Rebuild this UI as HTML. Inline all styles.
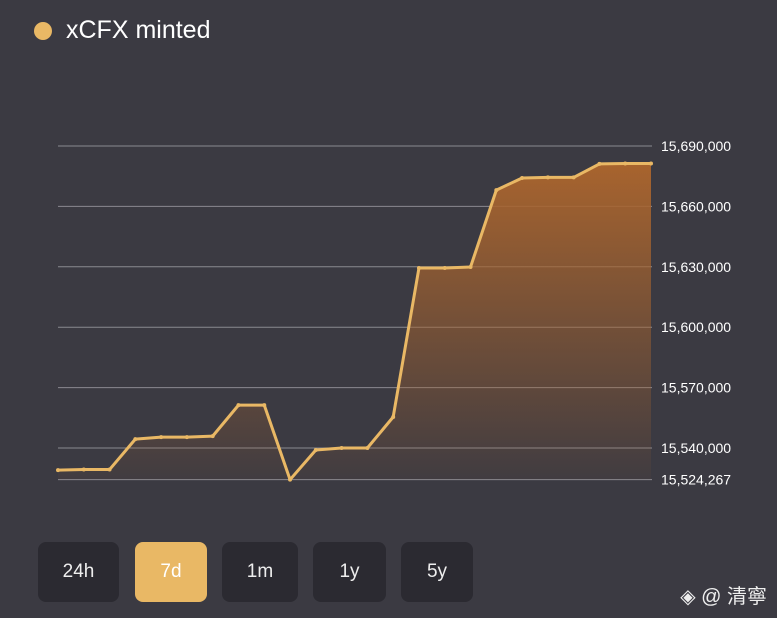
<!DOCTYPE html>
<html><head><meta charset="utf-8">
<style>
body{margin:0;width:777px;height:618px;background:#3b3a42;font-family:"Liberation Sans","Noto Sans CJK SC",sans-serif;overflow:hidden;position:relative}
.legend{position:absolute;left:34px;top:16px;display:flex;align-items:center;color:#fff;font-size:25px}
.dot{width:18px;height:18px;border-radius:50%;background:#e9b865;margin-right:14px}
.btn{position:absolute;top:542px;height:60px;border-radius:8px;background:#2b2a31;color:#eee;font-size:19px;display:flex;align-items:center;justify-content:center}
.btn.active{background:#e9b865;color:#fff}
.wm{position:absolute;right:10px;top:580px;color:#eee;font-size:20px}
</style></head><body>
<div class="legend"><div class="dot"></div><span>xCFX minted</span></div>
<svg id="chart" width="777" height="618" style="position:absolute;left:0;top:0">
<defs><linearGradient id="g" x1="0" y1="0" x2="0" y2="1"><stop offset="0" stop-color="#a8642e" stop-opacity="1"/><stop offset="1" stop-color="#a8642e" stop-opacity="0.05"/></linearGradient></defs>
</svg>
<div class="btn" style="left:38px;width:81px">24h</div>
<div class="btn active" style="left:135px;width:72px">7d</div>
<div class="btn" style="left:222px;width:76px">1m</div>
<div class="btn" style="left:313px;width:73px">1y</div>
<div class="btn" style="left:401px;width:72px">5y</div>
<div class="wm">◈ @ 清寧</div>
<script>
const values=[15529000,15529300,15529300,15544400,15545400,15545400,15545900,15561300,15561300,15524267,15539000,15540000,15540000,15555400,15629400,15629400,15629900,15668100,15674100,15674400,15674400,15681100,15681300,15681300];
const ticks=[15690000,15660000,15630000,15600000,15570000,15540000,15524267];
const tickLabels=["15,690,000","15,660,000","15,630,000","15,600,000","15,570,000","15,540,000","15,524,267"];
const NS="http://www.w3.org/2000/svg";
const svg=document.getElementById('chart');
const x0=58,x1=651;
const yv=v=>146+(15690000-v)*302/150000;
const xi=i=>x0+i*(x1-x0)/(values.length-1);
ticks.forEach((t,i)=>{
 const l=document.createElementNS(NS,'line');
 l.setAttribute('x1',x0);l.setAttribute('x2',652);l.setAttribute('y1',yv(t));l.setAttribute('y2',yv(t));
 l.setAttribute('stroke','#8a8990');l.setAttribute('stroke-width','1');
 
 
 svg.appendChild(l);
 const tx=document.createElementNS(NS,'text');
 tx.setAttribute('x',661);tx.setAttribute('y',yv(t)+5);tx.setAttribute('fill','#fff');tx.setAttribute('font-size','14');
 tx.setAttribute('font-family','Liberation Sans, sans-serif');
 tx.textContent=tickLabels[i];
 
 
 svg.appendChild(tx);
});
let d=values.map((v,i)=>(i?'L':'M')+xi(i)+','+yv(v)).join(' ');
const area=document.createElementNS(NS,'path');
area.setAttribute('d',d+' L'+x1+','+yv(15524267)+' L'+x0+','+yv(15524267)+' Z');
area.setAttribute('fill','url(#g)');


svg.appendChild(area);
const line=document.createElementNS(NS,'path');
line.setAttribute('d',d);line.setAttribute('fill','none');line.setAttribute('stroke','#e9b865');line.setAttribute('stroke-width','3');line.setAttribute('stroke-linejoin','round');


svg.appendChild(line);
values.forEach((v,i)=>{
 const c=document.createElementNS(NS,'circle');
 c.setAttribute('cx',xi(i));c.setAttribute('cy',yv(v));c.setAttribute('r','2');c.setAttribute('fill','#e9b865');
 
 
 svg.appendChild(c);
});
</script>
</body></html>
